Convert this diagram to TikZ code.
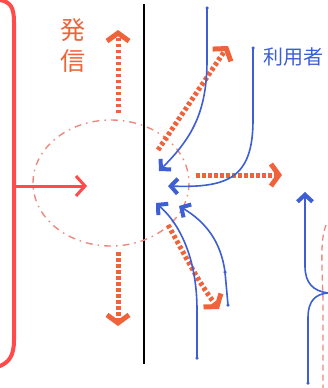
\documentclass[tikz,border=0pt]{standalone}
\usepackage{fontspec}
\newfontfamily\cjk{Noto Sans CJK JP}
\usetikzlibrary{arrows.meta}
\definecolor{brk}{HTML}{FF4B4B}
\definecolor{blu}{HTML}{3D5FD3}
\definecolor{org}{HTML}{F0623A}
\definecolor{pnk}{HTML}{EC8A7E}
\tikzset{
  bracket/.style={draw=brk, line width=4pt, line cap=round},
  bluearrow/.style={draw=blu, line width=1.6pt, -{Straight Barb[length=7pt,width=15pt,line width=4pt]}},
  blueline/.style={draw=blu, line width=1.6pt},
  dotarrow/.style={draw=org, line width=5pt, dash pattern=on 3.5pt off 2.5pt, -{Straight Barb[length=8pt,width=22pt,line width=5pt]}},
  pinkdash/.style={draw=pnk, line width=1.4pt, dash pattern=on 7pt off 5pt on 1.5pt off 5pt},
  bdot/.style={fill=blu, circle, inner sep=0pt, minimum size=3.5pt}
}
\begin{document}
\begin{tikzpicture}[x=1pt,y=-1pt]
\useasboundingbox (0,0) rectangle (328,388);
\fill[white] (0,0) rectangle (328,388);

% bracket and arrow
\coordinate (bt) at (0,0);
\coordinate (bb) at (0,366);
\coordinate (bm) at (14,186);
\coordinate (bx) at (87,186);
\draw[bracket] (bt) .. controls (11,2) and (14,8) .. (14,22) -- (14,340) .. controls (14,356) and (9,362) .. (bb);
\draw[draw=brk, line width=3pt, -{Straight Barb[length=9pt,width=20pt,line width=3pt]}] (bm) -- (bx);

% black divider
\coordinate (lt) at (144,4);
\coordinate (lb) at (144,364);
\draw[line width=1.6pt] (lt) -- (lb);

% dashed circle
\coordinate (ec) at (111,183);
\draw[pinkdash] (ec) ellipse [x radius=78, y radius=63];

% red right dashed line
\coordinate (rt) at (326,225);
\coordinate (rb) at (323,388);
\draw[draw=pnk, line width=1.3pt, dash pattern=on 6pt off 4pt] (rt) .. controls (320,240) and (322,265) .. (323,300) -- (rb);

% red dotted arrows
\coordinate (u1) at (118,113); \coordinate (u2) at (118,30);
\draw[dotarrow] (u1) -- (u2);
\coordinate (d1) at (118,252); \coordinate (d2) at (118,326);
\draw[dotarrow] (d1) -- (d2);
\coordinate (g1) at (158,150); \coordinate (g2) at (228,46);
\draw[dotarrow] (g1) -- (g2);
\coordinate (h1) at (196,175); \coordinate (h2) at (282,175);
\draw[dotarrow] (h1) -- (h2);
\coordinate (k1) at (168,225); \coordinate (k2) at (219,309);
\draw[dotarrow] (k1) .. controls (185,255) and (198,282) .. (k2);

% blue lines
\coordinate (a0) at (207,8); \coordinate (a1) at (159,171);
\draw[bluearrow] (a0) -- (207,60) .. controls (207,112) and (192,138) .. (a1);
\coordinate (b0) at (253,48); \coordinate (b1) at (168,186);
\draw[bluearrow] (b0) -- (253,120) .. controls (253,178) and (228,188) .. (b1);
\coordinate (c0) at (197,358); \coordinate (c1) at (156,203);
\draw[bluearrow] (c0) -- (197,310) .. controls (197,262) and (182,226) .. (c1);
\coordinate (e0) at (228,305); \coordinate (e1) at (225,272); \coordinate (e2) at (179,206);
\draw[bluearrow] (e0) -- (e1) .. controls (221,242) and (206,222) .. (e2);
\coordinate (f0) at (328,293); \coordinate (f1) at (305,192);
\draw[bluearrow] (f0) .. controls (313,291) and (305,283) .. (305,266) -- (f1);
\coordinate (f2) at (308,383);
\draw[blueline] (f2) -- (308,318) .. controls (308,300) and (316,294) .. (f0);

\node[bdot] (p1) at (a0) {};
\node[bdot] (p2) at (b0) {};
\node[bdot] (p3) at (c0) {};
\node[bdot] (p4) at (e0) {};
\node[bdot] (p5) at (e1) {};
\node[bdot] (p6) at (f2) {};

% texts
\node[text=org, align=center, font=\cjk\fontsize{25}{31}\selectfont, inner sep=0pt] (hassin) at (73,46) {発\\信};
\node[text=blu, anchor=west, font=\cjk\fontsize{20}{20}\selectfont, inner sep=0pt] (riyou) at (263,57) {利用者};
\end{tikzpicture}
\end{document}
